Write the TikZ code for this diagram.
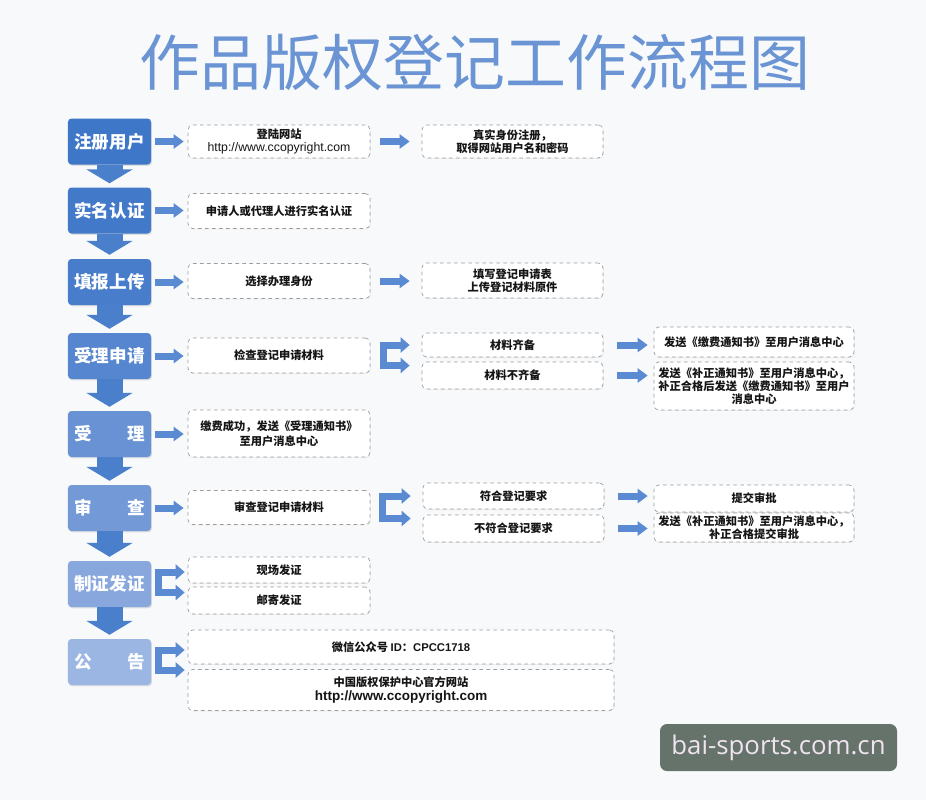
\documentclass[tikz,border=0pt]{standalone}
\usepackage{fontspec}
\setmainfont{Noto Sans CJK SC}
\newfontfamily\latinfont{Liberation Sans}
\newfontfamily\markfont{Open Sans}
\usetikzlibrary{arrows.meta,calc,shadows}
\definecolor{Paper}{HTML}{F7F9FA}
\definecolor{TitleBlue}{HTML}{6A94D3}
\definecolor{StepA}{HTML}{3E77C8}
\definecolor{StepB}{HTML}{4279C9}
\definecolor{StepC}{HTML}{487DCB}
\definecolor{StepD}{HTML}{5686CF}
\definecolor{StepE}{HTML}{6992D4}
\definecolor{StepF}{HTML}{7399D7}
\definecolor{StepG}{HTML}{87A7DD}
\definecolor{StepH}{HTML}{9CB6E4}
\definecolor{ArrowBlue}{HTML}{5A8AD1}
\definecolor{DownBlue}{HTML}{4A7FCC}
\definecolor{DashGray}{HTML}{9C9C9C}
\definecolor{InkBlack}{HTML}{151515}
\definecolor{Mark}{HTML}{66736A}
\definecolor{MarkText}{HTML}{EFE4F0}

\begin{document}
\begin{tikzpicture}[x=0.03cm,y=-0.03cm]
  \tikzset{
    titletext/.style={font=\fontsize{52}{56}\selectfont, text=TitleBlue, inner sep=0pt},
    stepbox/.style={
      rounded corners=3pt,
      minimum width=2.49cm,
      minimum height=1.38cm,
      inner sep=0pt,
      text=white,
      font=\bfseries\fontsize{15}{17}\selectfont,
      drop shadow={opacity=0.22,shadow xshift=0.8pt,shadow yshift=-1.2pt}
    },
    infobox/.style={
      draw=DashGray,
      dashed,
      line width=0.6pt,
      rounded corners=4pt,
      fill=white,
      align=center,
      inner sep=2pt,
      text=InkBlack,
      font=\bfseries\fontsize{9.6}{11.2}\selectfont,
      drop shadow={opacity=0.12,shadow xshift=0.6pt,shadow yshift=-0.8pt}
    },
    colone/.style={infobox, minimum width=5.46cm},
    coltwo/.style={infobox, minimum width=5.43cm},
    colthree/.style={infobox, minimum width=6.0cm},
    downarrow/.style={-{Triangle[length=0.42cm,width=1.38cm]}, line width=0.78cm, DownBlue, shorten >=0.12cm},
    rightarrow/.style={-{Triangle[length=0.3cm,width=0.42cm]}, line width=0.21cm, ArrowBlue, shorten <=0.12cm, shorten >=0.12cm},
    nextarrow/.style={rightarrow, shorten <=0.3cm, shorten >=0.36cm},
    lastarrow/.style={rightarrow, shorten <=0.42cm, shorten >=0.18cm},
    forkarrow/.style={{Triangle[length=0.27cm,width=0.45cm]}-{Triangle[length=0.27cm,width=0.45cm]}, line width=0.21cm, ArrowBlue, line join=miter}
  }

  \fill[Paper] (0,0) rectangle (926,800);
  \useasboundingbox (0,0) rectangle (926,800);

  \node[titletext] (title) at (475,62) {作品版权登记工作流程图};

  % left column
  \node[stepbox, fill=StepA] (reg)      at (109.5,141.5) {注册用户};
  \node[stepbox, fill=StepB] (real)     at (109.5,210.5) {实名认证};
  \node[stepbox, fill=StepC] (upload)   at (109.5,282)   {填报上传};
  \node[stepbox, fill=StepD] (accept)   at (109.5,356)   {受理申请};
  \node[stepbox, fill=StepE] (accepted) at (109.5,434)   {受\hspace{2em}理};
  \node[stepbox, fill=StepF] (review)   at (109.5,508)   {审\hspace{2em}查};
  \node[stepbox, fill=StepG] (issue)    at (109.5,584)   {制证发证};
  \node[stepbox, fill=StepH] (notice)   at (109.5,662)   {公\hspace{2em}告};

  \draw[downarrow] (reg.south) -- (real.north);
  \draw[downarrow] (real.south) -- (upload.north);
  \draw[downarrow] (upload.south) -- (accept.north);
  \draw[downarrow] (accept.south) -- (accepted.north);
  \draw[downarrow] (accepted.south) -- (review.north);
  \draw[downarrow] (review.south) -- (issue.north);
  \draw[downarrow] (issue.south) -- (notice.north);

  % first column of details
  \node[colone, minimum height=0.99cm] (site)   at (279,141.5) {登陆网站\\{\latinfont\mdseries\fontsize{10.5}{11.2}\selectfont http://www.ccopyright.com}};
  \node[colone, minimum height=1.05cm] (ident)  at (279,211)   {申请人或代理人进行实名认证};
  \node[colone, minimum height=1.05cm] (role)   at (279,281)   {选择办理身份};
  \node[colone, minimum height=1.05cm] (check)  at (279,355.5) {检查登记申请材料};
  \node[colone, minimum height=1.41cm] (paid)   at (279,433.5) {缴费成功，发送《受理通知书》\\[2pt]至用户消息中心};
  \node[colone, minimum height=1.02cm] (audit)  at (279,507.5) {审查登记申请材料};
  \node[colone, minimum height=0.78cm] (onsite) at (279,570)   {现场发证};
  \node[colone, minimum height=0.81cm] (mail)   at (279,600.5) {邮寄发证};
  \node[infobox, minimum width=12.78cm, minimum height=1.02cm] (wechat) at (401,647) {微信公众号 {\latinfont ID}：{\latinfont CPCC1718}};
  \node[infobox, minimum width=12.78cm, minimum height=1.23cm] (portal) at (401,690) {中国版权保护中心官方网站\\{\latinfont\fontsize{11.5}{12.5}\selectfont http://www.ccopyright.com}};

  \draw[rightarrow] (reg.east) -- (site.west);
  \draw[rightarrow] (real.east) -- (real.east -| ident.west);
  \draw[rightarrow] (upload.east) -- (upload.east -| role.west);
  \draw[rightarrow] (accept.east) -- (accept.east -| check.west);
  \draw[rightarrow] (accepted.east) -- (accepted.east -| paid.west);
  \draw[rightarrow] (review.east) -- (review.east -| audit.west);

  % second column
  \node[coltwo, minimum height=0.99cm] (account)    at (512.5,141.5) {真实身份注册，\\取得网站用户名和密码};
  \node[coltwo, minimum height=1.05cm] (form)       at (512.5,280.5) {填写登记申请表\\上传登记材料原件};
  \node[coltwo, minimum height=0.72cm] (complete)   at (512.5,345)   {材料齐备};
  \node[coltwo, minimum height=0.81cm] (incomplete) at (512.5,375.5) {材料不齐备};
  \node[coltwo, minimum height=0.78cm] (meet)       at (513.5,496)   {符合登记要求};
  \node[coltwo, minimum height=0.81cm] (fail)       at (513.5,528.5) {不符合登记要求};

  \draw[nextarrow] (site.east) -- (account.west);
  \draw[nextarrow] (role.east) -- (role.east -| form.west);

  \coordinate (checkfork) at ($(check.east)+(13,0)$);
  \coordinate (auditfork) at ($(audit.east)+(12,0)$);
  \coordinate (issuefork) at ($(issue.east)+(7.5,0)$);
  \coordinate (noticefork) at ($(notice.east)+(7.5,0)$);
  \draw[forkarrow, shorten <=0.36cm, shorten >=0.36cm] (complete.west) -| (checkfork) |- ($(incomplete.west)+(0,-10)$);
  \draw[forkarrow, shorten <=0.36cm, shorten >=0.36cm] (meet.west) -| (auditfork) |- ($(fail.west)+(0,-10)$);
  \draw[forkarrow, shorten <=0.09cm, shorten >=0.09cm] ($(onsite.west)+(0,2)$) -| (issuefork) |- ($(mail.west)+(0,-8)$);
  \draw[forkarrow, shorten <=0.09cm, shorten >=0.09cm] ($(wechat.west)+(0,3)$) -| (noticefork) |- ($(portal.west)+(0,-20)$);

  % third column
  \node[colthree, minimum height=0.9cm]  (feenote)    at (754,342)   {发送《缴费通知书》至用户消息中心};
  \node[colthree, minimum height=1.44cm] (fixnote)    at (754,386)   {发送《补正通知书》至用户消息中心，\\补正合格后发送《缴费通知书》至用户\\消息中心};
  \node[colthree, minimum height=0.81cm] (approve)    at (754,498.5) {提交审批};
  \node[colthree, minimum height=0.87cm] (fixapprove) at (754,527.5) {发送《补正通知书》至用户消息中心，\\补正合格提交审批};

  \draw[lastarrow] (complete.east) -- (complete.east -| feenote.west);
  \draw[lastarrow] (incomplete.east) -- (incomplete.east -| fixnote.west);
  \draw[lastarrow] (meet.east) -- (meet.east -| approve.west);
  \draw[lastarrow] (fail.east) -- (fail.east -| fixapprove.west);

  \node[rounded corners=6pt, fill=Mark, minimum width=7.11cm, minimum height=1.41cm,
        text=MarkText, font=\markfont\fontsize{22}{24}\selectfont] (mark) at (778.5,747.5) {bai-sports.com.cn};
\end{tikzpicture}
\end{document}
